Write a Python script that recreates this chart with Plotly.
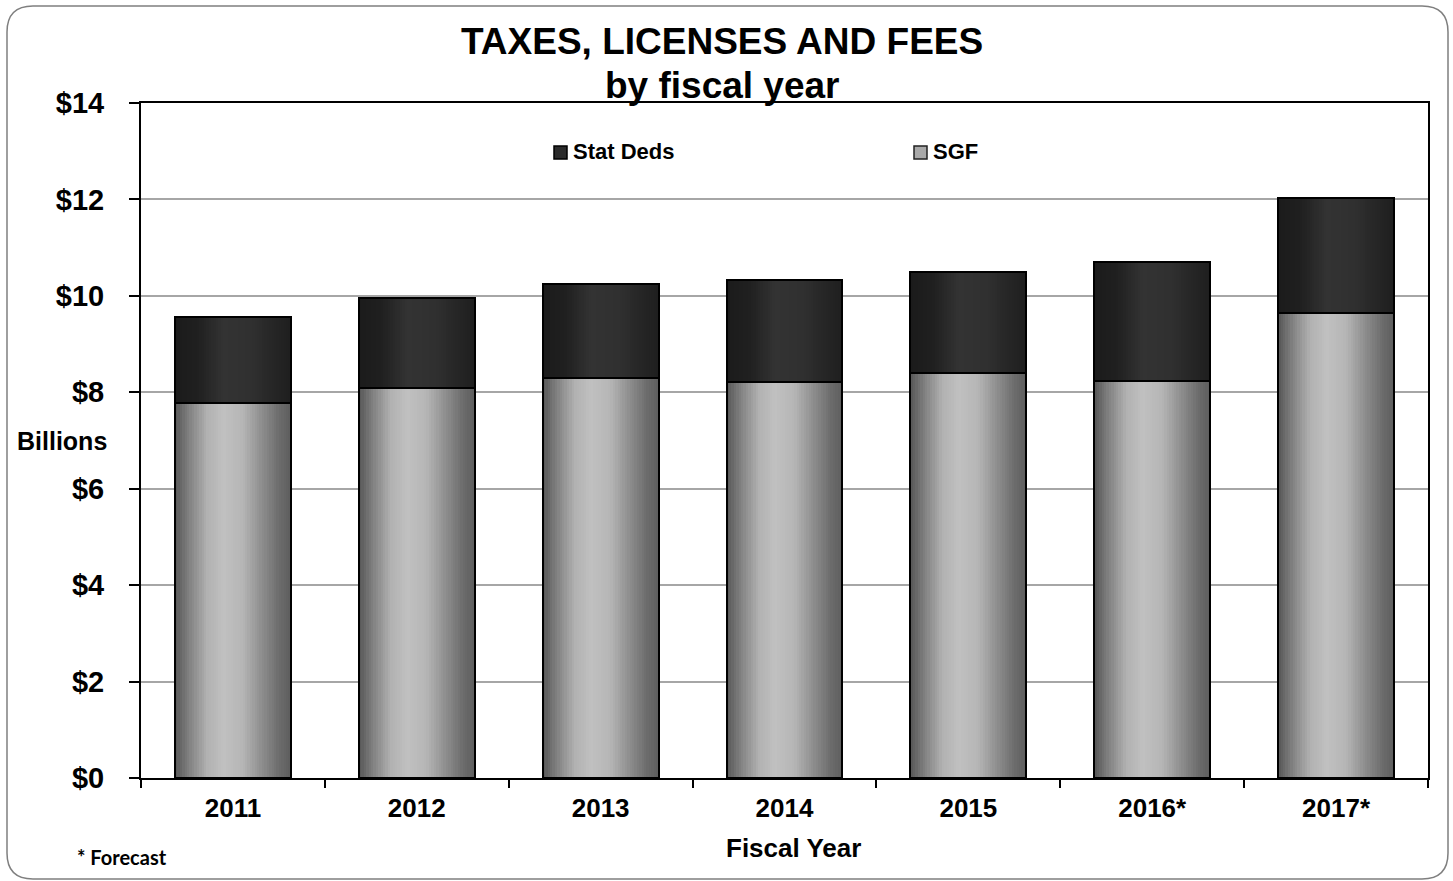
import plotly.graph_objects as go

# Fiscal years (2016 and 2017 are forecasts)
years = ["2011", "2012", "2013", "2014", "2015", "2016*", "2017*"]
# State General Fund, $ billions
sgf = [7.77, 8.08, 8.29, 8.21, 8.41, 8.23, 9.64]
# Statutory dedications, $ billions
stat_deds = [1.80, 1.88, 1.96, 2.11, 2.08, 2.47, 2.40]

y_ticks = [0, 2, 4, 6, 8, 10, 12, 14]

W, H = 1453, 881
M_L, M_R, M_T, M_B = 141, 25, 103, 103
PW, PH = W - M_L - M_R, H - M_T - M_B


def px(x):
    return (x - M_L) / PW


def py(y):
    return (H - M_B - y) / PH


BAR_W = 0.63
N_SLICES = 48


def shade(stops, t):
    # piecewise-linear grey level along the bar width
    for (t0, v0), (t1, v1) in zip(stops, stops[1:]):
        if t0 <= t <= t1:
            v = v0 + (v1 - v0) * (t - t0) / (t1 - t0)
            v = int(round(v))
            return f"rgb({v},{v},{v})"
    v = stops[-1][1]
    return f"rgb({v},{v},{v})"


sgf_stops = [(0.0, 0x56), (0.12, 0x80), (0.28, 0xb2), (0.42, 0xc0),
             (0.58, 0xb6), (0.74, 0x90), (0.9, 0x6c), (1.0, 0x5e)]
sd_stops = [(0.0, 0x1b), (0.2, 0x20), (0.42, 0x33), (0.65, 0x30),
            (0.85, 0x26), (1.0, 0x1e)]

fig = go.Figure()

step = BAR_W / N_SLICES
for base_vals, vals, stops in ((None, sgf, sgf_stops),
                               (sgf, stat_deds, sd_stops)):
    for i in range(N_SLICES):
        start = -BAR_W / 2 + i * step
        w = min(step * 1.6, BAR_W / 2 - start)
        t = (i + 0.5) / N_SLICES
        fig.add_trace(go.Bar(
            x=years, y=vals, base=base_vals,
            offset=start, width=w,
            marker=dict(color=shade(stops, t), line=dict(width=0)),
            showlegend=False, hoverinfo="skip",
        ))

# black outlines of each stacked segment
for base_vals, vals, name in ((None, sgf, "SGF"), (sgf, stat_deds, "Stat Deds")):
    fig.add_trace(go.Bar(
        x=years, y=vals, base=base_vals, name=name,
        offset=-BAR_W / 2, width=BAR_W,
        marker=dict(color="rgba(0,0,0,0)", line=dict(color="#000000", width=2)),
        showlegend=False,
    ))

FONT = "Liberation Sans, Arial, sans-serif"

fig.update_layout(
    width=W, height=H,
    margin=dict(l=M_L, r=M_R, t=M_T, b=M_B),
    paper_bgcolor="white", plot_bgcolor="white",
    barmode="overlay",
    bargap=0,
    showlegend=False,
    font=dict(family=FONT, color="black"),
    xaxis=dict(
        type="category", tickson="boundaries",
        ticks="outside", ticklen=8, tickwidth=1.5, tickcolor="black",
        showline=True, linecolor="black", linewidth=2, mirror=True,
        showgrid=False,
        tickfont=dict(family=FONT, size=26, color="black", weight="bold"),
        ticklabelstandoff=6,
    ),
    yaxis=dict(
        range=[0, 14], tickvals=y_ticks,
        ticktext=[f"${v}" for v in y_ticks],
        ticks="outside", ticklen=10, tickwidth=1.5, tickcolor="black",
        showline=True, linecolor="black", linewidth=2, mirror=True,
        showgrid=True, gridcolor="#a6a6a6", gridwidth=1.5,
        zeroline=False,
        tickfont=dict(family=FONT, size=29, color="black", weight="bold"),
        ticklabelstandoff=19,
    ),
)

annotations = [
    dict(text="<b>TAXES, LICENSES AND FEES</b>", x=px(722), y=py(42),
         font=dict(size=37)),
    dict(text="<b>by fiscal year</b>", x=px(722), y=py(86),
         font=dict(size=37)),
    dict(text="<b>Billions</b>", x=px(62), y=py(441), font=dict(size=25)),
    dict(text="<b>Fiscal Year</b>", x=px(793), y=py(848), font=dict(size=26)),
    dict(text="<b>* Forecast</b>", x=px(75), y=py(857), xanchor="left",
         font=dict(size=20, family="Lato, Open Sans, sans-serif")),
    dict(text="<b>Stat Deds</b>", x=px(571), y=py(152), xanchor="left",
         font=dict(size=22)),
    dict(text="<b>SGF</b>", x=px(931), y=py(152), xanchor="left",
         font=dict(size=22)),
]
for a in annotations:
    a.setdefault("xanchor", "center")
    a.update(xref="paper", yref="paper", yanchor="middle", showarrow=False)
    a["font"].setdefault("family", FONT)
    a["font"].setdefault("color", "black")
fig.update_layout(annotations=annotations)

# legend swatches
shapes = [
    dict(type="rect", xref="paper", yref="paper",
         x0=px(554), x1=px(567), y0=py(159), y1=py(146),
         fillcolor="#2b2b2b", line=dict(color="#000000", width=1.5)),
    dict(type="rect", xref="paper", yref="paper",
         x0=px(914), x1=px(927), y0=py(159), y1=py(146),
         fillcolor="#a9a9a9", line=dict(color="#222222", width=1.5)),
]

# rounded outer frame
L, R, T, B, r = 7, 1448, 6, 879, 26
pts = [
    ("M", L, T + r), ("Q", L, T, L + r, T), ("L", R - r, T),
    ("Q", R, T, R, T + r), ("L", R, B - r), ("Q", R, B, R - r, B),
    ("L", L + r, B), ("Q", L, B, L, B - r),
]
path = ""
for p in pts:
    cmd, coords = p[0], p[1:]
    xy = []
    for j in range(0, len(coords), 2):
        xy.append(f"{px(coords[j]):.5f},{py(coords[j + 1]):.5f}")
    path += cmd + " " + " ".join(xy) + " "
path += "Z"
shapes.append(dict(type="path", xref="paper", yref="paper", path=path,
                   line=dict(color="#7f7f7f", width=1.5), layer="below"))
fig.update_layout(shapes=shapes)

fig.write_html("out.html")
